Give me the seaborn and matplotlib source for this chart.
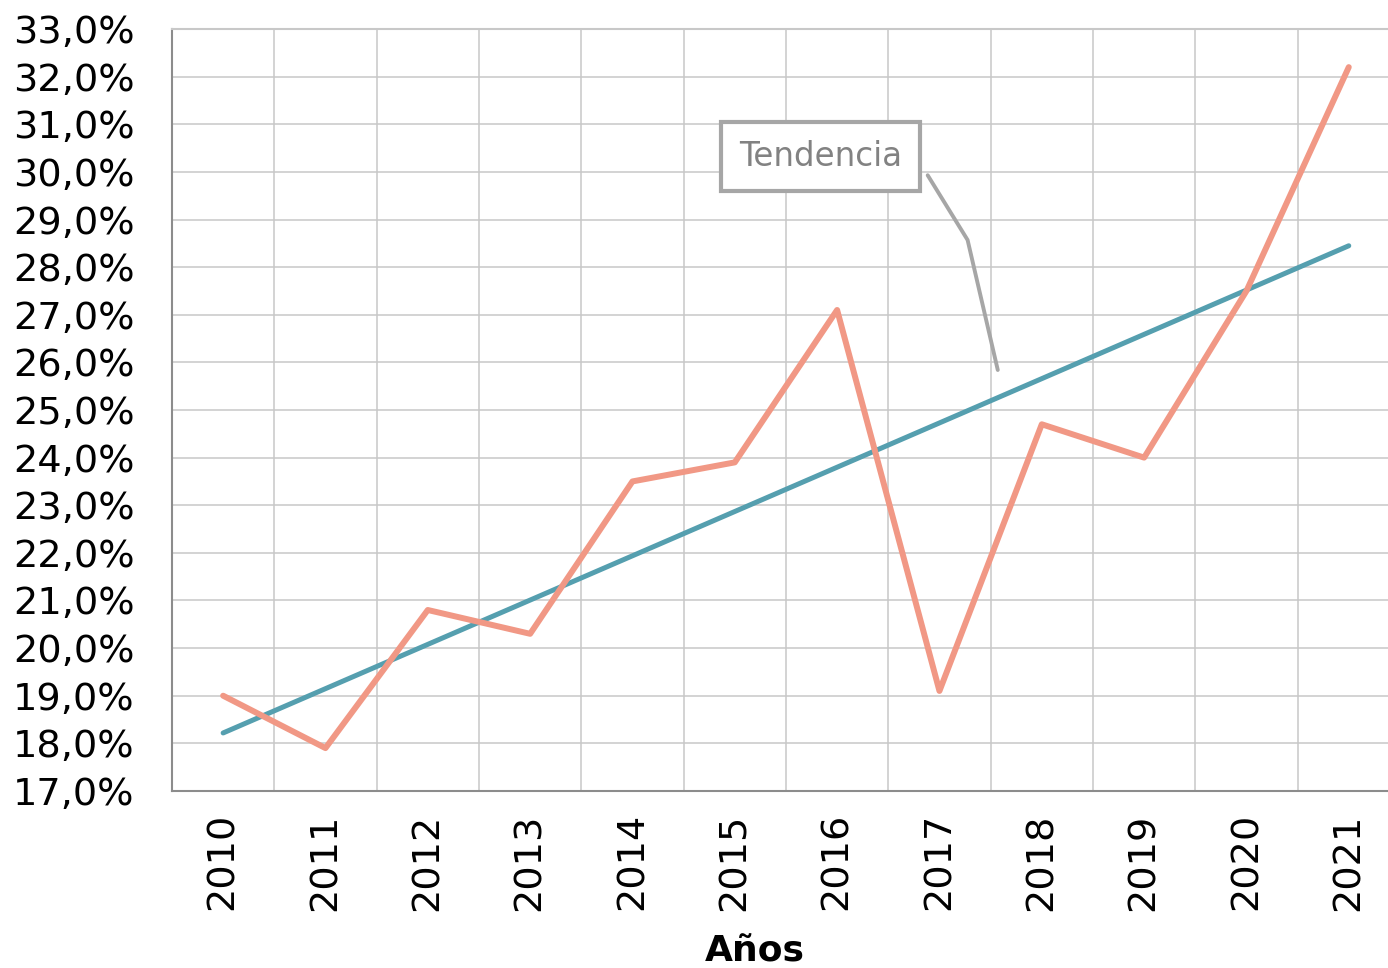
import numpy as np
import pandas as pd
import matplotlib
matplotlib.use("Agg")
import matplotlib.pyplot as plt
import seaborn as sns
from matplotlib.ticker import FuncFormatter, MultipleLocator

# ================================
# Data
# ================================
years = [2010, 2011, 2012, 2013, 2014, 2015, 2016, 2017, 2018, 2019, 2020, 2021]
values = [19.0, 17.9, 20.8, 20.3, 23.5, 23.9, 27.1, 19.1, 24.7, 24.0, 27.5, 32.2]
x_label = "Años"
trend_label = "Tendencia"

df = pd.DataFrame({"year": years, "value": values})

# ================================
# Style
# ================================
sns.set_style("white")
plt.rcParams["font.family"] = ["DejaVu Sans"]

salmon = "#F19885"
teal = "#559FAF"
grid_c = "#C8C8C8"
spine_c = "#8C8C8C"

fig = plt.figure(figsize=(13.88, 9.68), dpi=100)
ax = fig.add_axes([0.1239, 0.1829, 1.0086 - 0.1239, 0.970 - 0.1829])

# trend line (least squares, drawn by seaborn)
sns.regplot(data=df, x="year", y="value", scatter=False, ci=None, truncate=True,
            color=teal, line_kws={"linewidth": 3.6, "solid_capstyle": "round", "zorder": 3}, ax=ax)
# data line
sns.lineplot(data=df, x="year", y="value", color=salmon, linewidth=4.3,
             solid_capstyle="round", zorder=4, ax=ax)

ax.set_xlim(years[0] - 0.5, years[-1] + 0.5)
ax.set_ylim(17, 33)

# ticks / grid
ax.set_xticks(years)
ax.set_xticklabels([str(y) for y in years], rotation=90, fontsize=27.5, color="black")
ax.xaxis.set_minor_locator(MultipleLocator(1, offset=0.5))
ax.yaxis.set_major_locator(MultipleLocator(1))
ax.yaxis.set_major_formatter(FuncFormatter(lambda v, p: f"{v:.1f}%".replace(".", ",")))
ax.tick_params(axis="y", labelsize=27.5, labelcolor="black", direction="in", length=11,
               width=1.2, color=spine_c, pad=27)
ax.tick_params(axis="x", which="major", length=0, pad=16)
ax.tick_params(axis="x", which="minor", length=12, width=1.2, color=spine_c, direction="out")
ax.grid(True, axis="y", which="major", color=grid_c, linewidth=1.1)
ax.grid(True, axis="x", which="minor", color=grid_c, linewidth=1.1)
ax.grid(False, axis="x", which="major")

ax.spines["right"].set_visible(False)
ax.spines["top"].set_color(grid_c)
ax.spines["top"].set_linewidth(1.5)
for s in ["left", "bottom"]:
    ax.spines[s].set_color(spine_c)
    ax.spines[s].set_linewidth(1.5)

ax.set_ylabel("")
ax.set_xlabel("")
fig.text(755 / 1388, 1 - 952 / 968, x_label, fontsize=26, fontweight="bold", color="black",
         ha="center", va="center")

# annotation box with connector
ax.plot([2016.885, 2017.275, 2017.57], [29.93, 28.57, 25.84], color="#A6A6A6",
        linewidth=2.8, zorder=5)
ax.text(2015.84, 30.33, trend_label, fontsize=23.5, color="#828282", ha="center", va="center",
        zorder=6,
        bbox=dict(boxstyle="square,pad=0.55", facecolor="white", edgecolor="#A6A6A6",
                  linewidth=3))

fig.savefig("out.png", dpi=100)
